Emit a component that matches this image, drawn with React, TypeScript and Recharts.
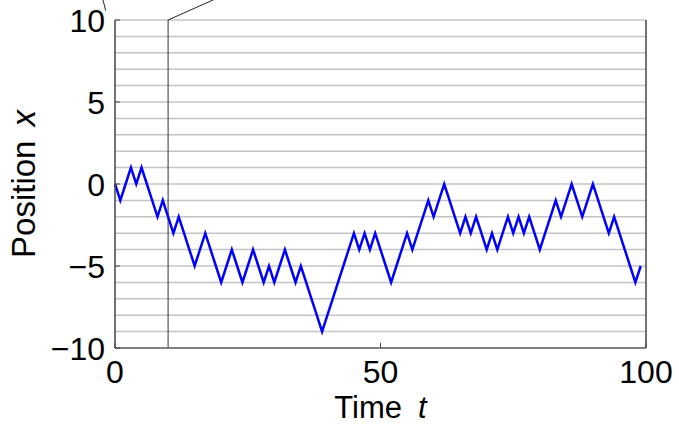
import React from 'react';
import { LineChart, Line, XAxis, YAxis, CartesianGrid, ReferenceLine } from 'recharts';

// random walk positions, one per time step t = 0..99
const position = [
  0, -1, 0, 1, 0, 1, 0, -1, -2, -1,
  -2, -3, -2, -3, -4, -5, -4, -3, -4, -5,
  -6, -5, -4, -5, -6, -5, -4, -5, -6, -5,
  -6, -5, -4, -5, -6, -5, -6, -7, -8, -9,
  -8, -7, -6, -5, -4, -3, -4, -3, -4, -3,
  -4, -5, -6, -5, -4, -3, -4, -3, -2, -1,
  -2, -1, 0, -1, -2, -3, -2, -3, -2, -3,
  -4, -3, -4, -3, -2, -3, -2, -3, -2, -3,
  -4, -3, -2, -1, -2, -1, 0, -1, -2, -1,
  0, -1, -2, -3, -2, -3, -4, -5, -6, -5,
];

const xTicks = [0, 50, 100];
const yTicks = [-10, -5, 0, 5, 10];
const gridLevels = [-10, -9, -8, -7, -6, -5, -4, -3, -2, -1, 0, 1, 2, 3, 4, 5, 6, 7, 8, 9, 10];
const markerTime = 10;

const walk = position.map((x, t) => ({ t, x }));

const FONT = '"Liberation Sans", Arial, Helvetica, sans-serif';
const fmt = (v: number) => (v < 0 ? `\u2212${Math.abs(v)}` : `${v}`);

const LeftTick = (props: any) => {
  const { x, y, payload } = props;
  return (
    <g>
      <line x1={x + 10} x2={x + 15} y1={y} y2={y} stroke="#444" strokeWidth={1} />
      <text x={x} y={y} dy={11.5} textAnchor="end" fontSize={32} fontFamily={FONT} fill="#000">
        {fmt(payload.value)}
      </text>
    </g>
  );
};

const RightTick = (props: any) => {
  const { x, y } = props;
  return <line x1={x} x2={x - 5} y1={y} y2={y} stroke="#444" strokeWidth={1} />;
};

const BottomTick = (props: any) => {
  const { x, y, payload } = props;
  return (
    <g>
      <line x1={x} x2={x} y1={y - 13} y2={y - 18} stroke="#444" strokeWidth={1} />
      <text x={x} y={y} dy={22} textAnchor="middle" fontSize={32} fontFamily={FONT} fill="#000">
        {payload.value}
      </text>
    </g>
  );
};

const YTitle = (props: any) => {
  const { viewBox } = props;
  const cx = viewBox.x + 30;
  const cy = viewBox.y + viewBox.height / 2;
  return (
    <text
      x={cx}
      y={cy}
      textAnchor="middle"
      transform={`rotate(-90, ${cx}, ${cy})`}
      fontSize={33}
      fontFamily={FONT}
      fill="#000"
    >
      <tspan>Position</tspan>
      <tspan dx={14} fontStyle="italic">x</tspan>
    </text>
  );
};

const XTitle = (props: any) => {
  const { viewBox } = props;
  const cx = viewBox.x + viewBox.width / 2;
  return (
    <text x={cx} y={418} textAnchor="middle" fontSize={31} fontFamily={FONT} fill="#000">
      <tspan>Time</tspan>
      <tspan dx={16} fontStyle="italic">t</tspan>
    </text>
  );
};

export default function App() {
  return (
    <div style={{ position: 'absolute', left: 0, top: 0, width: 679, height: 427, background: '#fff' }}>
      <LineChart width={679} height={427} data={walk} margin={{ top: 20, right: 5, bottom: 5, left: 5 }}>
        <CartesianGrid
          vertical={false}
          horizontalValues={gridLevels}
          stroke="#c4c4c4"
          strokeWidth={1.5}
        />
        <XAxis
          dataKey="t"
          type="number"
          domain={[0, 100]}
          ticks={xTicks}
          height={74}
          tickSize={0}
          tickMargin={13}
          tickLine={false}
          axisLine={{ stroke: '#666', strokeWidth: 1.5 }}
          tick={<BottomTick />}
          interval={0}
          label={<XTitle />}
        />
        <YAxis
          type="number"
          domain={[-10, 10]}
          ticks={yTicks}
          width={110}
          tickSize={0}
          tickMargin={10}
          tickLine={false}
          axisLine={{ stroke: '#444', strokeWidth: 1.5 }}
          tick={<LeftTick />}
          interval={0}
          label={<YTitle />}
        />
        <YAxis
          yAxisId="right"
          orientation="right"
          type="number"
          domain={[-10, 10]}
          ticks={yTicks}
          width={28}
          tickSize={0}
          tickMargin={0}
          tickLine={false}
          axisLine={{ stroke: '#444', strokeWidth: 1.5 }}
          tick={<RightTick />}
          interval={0}
        />
        <ReferenceLine x={markerTime} stroke="#333" strokeWidth={1} />
        <ReferenceLine
          ifOverflow="visible"
          segment={[{ x: markerTime, y: 10 }, { x: markerTime + 12.7, y: 11.83 }]}
          stroke="#222"
          strokeWidth={1}
        />
        <ReferenceLine
          ifOverflow="visible"
          segment={[{ x: -2.4, y: 11.4 }, { x: -1.75, y: 10.57 }]}
          stroke="#222"
          strokeWidth={1}
        />
        <Line
          type="linear"
          dataKey="x"
          stroke="#0000ff"
          strokeWidth={2.5}
          dot={false}
          isAnimationActive={false}
        />
      </LineChart>
    </div>
  );
}
